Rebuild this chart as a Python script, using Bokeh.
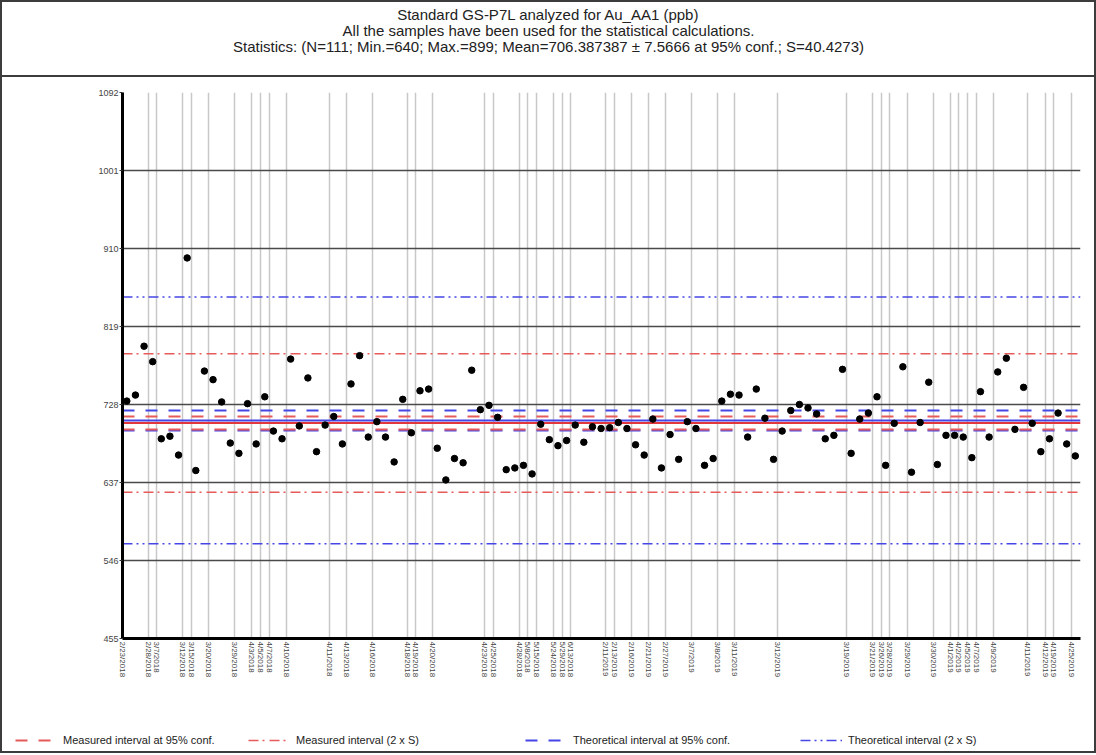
from bokeh.plotting import figure
from bokeh.models import Range1d, FixedTicker, Label, Legend, LegendItem
from bokeh.layouts import column
from bokeh.embed import file_html
from bokeh.resources import INLINE

# ---------------- data ----------------
title_lines = [
    "Standard GS-P7L analyzed for Au_AA1 (ppb)",
    "All the samples have been used for the statistical calculations.",
    "Statistics: (N=111; Min.=640; Max.=899; Mean=706.387387 \u00b1 7.5666 at 95% conf.; S=40.4273)",
]

date_labels = [
    "2/23/2018", "2/28/2018", "3/7/2018", "3/12/2018", "3/15/2018", "3/20/2018", "3/29/2018",
    "4/3/2018", "4/5/2018", "4/7/2018", "4/10/2018", "4/11/2018", "4/13/2018", "4/16/2018",
    "4/18/2018", "4/19/2018", "4/20/2018", "4/23/2018", "4/25/2018", "4/28/2018", "5/8/2018",
    "5/15/2018", "5/24/2018", "5/29/2018", "6/13/2018", "2/11/2019", "2/13/2019", "2/16/2019",
    "2/21/2019", "2/27/2019", "3/7/2019", "3/8/2019", "3/11/2019", "3/12/2019", "3/19/2019",
    "3/21/2019", "3/26/2019", "3/28/2019", "3/29/2019", "3/30/2019", "4/1/2019", "4/2/2019",
    "4/5/2019", "4/7/2019", "4/9/2019", "4/11/2019", "4/12/2019", "4/19/2019", "4/25/2019",
]
date_counts = [
    3, 1, 3, 1, 2, 3, 2,
    1, 1, 2, 5, 2, 3, 4,
    1, 2, 6, 1, 3, 1, 1,
    2, 1, 1, 4, 1, 2, 2,
    2, 3, 3, 2, 5, 8, 3,
    1, 1, 2, 3, 2, 1, 1,
    1, 2, 4, 2, 1, 2, 1,
]

au_values = [
    732, 739, 796, 778, 688, 691, 669, 899, 651, 767,
    757, 731, 683, 671, 729, 682, 737, 697, 688, 781,
    703, 759, 673, 704, 714, 682, 752, 785, 690, 708,
    690, 661, 734, 695, 744, 746, 677, 640, 665, 660,
    768, 722, 727, 713, 652, 654, 657, 647, 705, 687,
    680, 686, 704, 684, 702, 700, 701, 707, 700, 681,
    669, 711, 654, 693, 664, 708, 700, 657, 665, 732,
    740, 739, 690, 746, 712, 664, 697, 721, 728, 724,
    717, 688, 692, 769, 671, 711, 718, 737, 657, 706,
    772, 649, 707, 754, 658, 692, 692, 690, 666, 743,
    690, 766, 782, 699, 748, 706, 673, 688, 718, 682, 668,
]

measured_mean = 706.387387
measured_ci95 = 7.5666
measured_sd = 40.4273
theoretical_mean = 709.4
theoretical_ci95 = 11.6
theoretical_2s = 144.0

y_ticks = [455, 546, 637, 728, 819, 910, 1001, 1092]

legend_labels = [
    "Measured interval at 95% conf.",
    "Measured interval (2 x S)",
    "Theoretical interval at 95% conf.",
    "Theoretical interval (2 x S)",
]

# ---------------- derived ----------------
FONT = "Liberation Sans"
RED = "#e2383c"
RED_LIGHT = "#e65a5a"
BLUE = "#4646e6"
BORDER = "2px solid #3c3c3c"

DASH = "12 11"
DASHDOT_RED = "10 4 2 5"
DASHDOT_BLUE = "10 4 2 4 2 4"

sample_idx = list(range(1, len(au_values) + 1))
tick_pos = []
start = 1
for c in date_counts:
    tick_pos.append(start - 0.5)
    start += c
overrides = {t: lab for t, lab in zip(tick_pos, date_labels)}

meas_ci = [measured_mean - measured_ci95, measured_mean + measured_ci95]
meas_2s = [measured_mean - 2 * measured_sd, measured_mean + 2 * measured_sd]
theo_ci = [theoretical_mean - theoretical_ci95, theoretical_mean + theoretical_ci95]
theo_2s = [theoretical_mean - theoretical_2s, theoretical_mean + theoretical_2s]


def no_align(fig):
    try:
        fig.frame_align = False
    except Exception:
        pass


# ---------------- title box ----------------
tf = figure(width=1092, height=75, x_range=Range1d(0, 1), y_range=Range1d(0, 1),
            toolbar_location=None, output_backend="svg", min_border=0,
            x_axis_location=None, y_axis_location=None,
            styles={"border-bottom": BORDER})
no_align(tf)
tf.grid.visible = False
tf.outline_line_color = None
for i, line in enumerate(title_lines):
    tf.add_layout(Label(x=546, y=63 - i * 16, x_units="screen", y_units="screen",
                        text=line, text_align="center", text_baseline="middle",
                        text_font=FONT, text_font_size="15px", text_color="#222222"))

# ---------------- chart ----------------
p = figure(width=1092, height=620, x_range=Range1d(0.5, 111.6), y_range=Range1d(455, 1092),
           toolbar_location=None, output_backend="svg",
           min_border_left=120, min_border_right=14, min_border_top=15, min_border_bottom=59)
no_align(p)
p.outline_line_color = None
p.background_fill_color = "white"

p.xgrid.ticker = FixedTicker(ticks=tick_pos)
p.xgrid.grid_line_color = "#c8c8c8"
p.xgrid.grid_line_width = 1.5
p.ygrid.ticker = FixedTicker(ticks=y_ticks)
p.ygrid.grid_line_color = "#4a4a4a"
p.ygrid.grid_line_width = 1.5

p.yaxis.ticker = FixedTicker(ticks=y_ticks)
p.yaxis.axis_line_width = 3
p.yaxis.axis_line_color = "black"
p.yaxis.major_tick_out = 3
p.yaxis.major_tick_in = 0
p.yaxis.major_tick_line_color = "#333333"
p.yaxis.minor_tick_line_color = None
p.yaxis.major_label_standoff = 1
p.yaxis.major_label_text_font = FONT
p.yaxis.major_label_text_font_size = "9px"
p.yaxis.major_label_text_color = "#444444"

p.xaxis.ticker = FixedTicker(ticks=tick_pos)
p.xaxis.major_label_overrides = overrides
p.xaxis.major_label_orientation = "vertical"
p.xaxis.axis_line_width = 3
p.xaxis.axis_line_color = "black"
p.xaxis.major_tick_out = 0
p.xaxis.major_tick_in = 0
p.xaxis.minor_tick_line_color = None
p.xaxis.major_label_standoff = 3
p.xaxis.major_label_text_font = FONT
p.xaxis.major_label_text_font_size = "8px"
p.xaxis.major_label_text_color = "#444444"

x0 = p.x_range.start
x1 = p.x_range.end


def hline(fig, values, color, dash, width=1.5):
    n = len(values)
    return fig.segment(x0=[x0] * n, x1=[x1] * n, y0=values, y1=values,
                       line_color=color, line_dash=dash, line_width=width)


hline(p, theo_2s, BLUE, DASHDOT_BLUE)
hline(p, meas_2s, RED_LIGHT, DASHDOT_RED)
hline(p, theo_ci, BLUE, DASH, 2)
hline(p, meas_ci, RED_LIGHT, DASH, 2)
hline(p, [theoretical_mean], BLUE, "solid", 2)
hline(p, [measured_mean], RED, "solid", 2)

p.scatter(sample_idx, au_values, size=6.5, color="black")

# ---------------- legend strip ----------------
lf = figure(width=1092, height=54, x_range=Range1d(0, 1), y_range=Range1d(0, 1),
            toolbar_location=None, output_backend="svg", min_border=0,
            x_axis_location=None, y_axis_location=None)
no_align(lf)
lf.grid.visible = False
lf.outline_line_color = None

legend_specs = [(meas_ci, RED_LIGHT, DASH, 2), (meas_2s, RED_LIGHT, DASHDOT_RED, 1.5),
                (theo_ci, BLUE, DASH, 2), (theo_2s, BLUE, DASHDOT_BLUE, 1.5)]
legend_x = [13, 246, 523, 798]
for lab, (vals, col, dash, w), lx in zip(legend_labels, legend_specs, legend_x):
    # same interval values; they fall outside this strip's ranges, so only the legend sample shows
    r = hline(lf, vals, col, dash, w)
    leg = Legend(items=[LegendItem(label=lab, renderers=[r])], location=(lx, 5),
                 orientation="horizontal", glyph_width=42, glyph_height=12,
                 label_text_font=FONT, label_text_font_size="11px", label_text_color="#222222",
                 label_standoff=6, padding=0, margin=0, spacing=0,
                 border_line_color=None, background_fill_alpha=0)
    lf.add_layout(leg)

layout = column(tf, p, lf, spacing=0, styles={"border": BORDER})

open("out.html", "w").write(file_html(layout, INLINE))
